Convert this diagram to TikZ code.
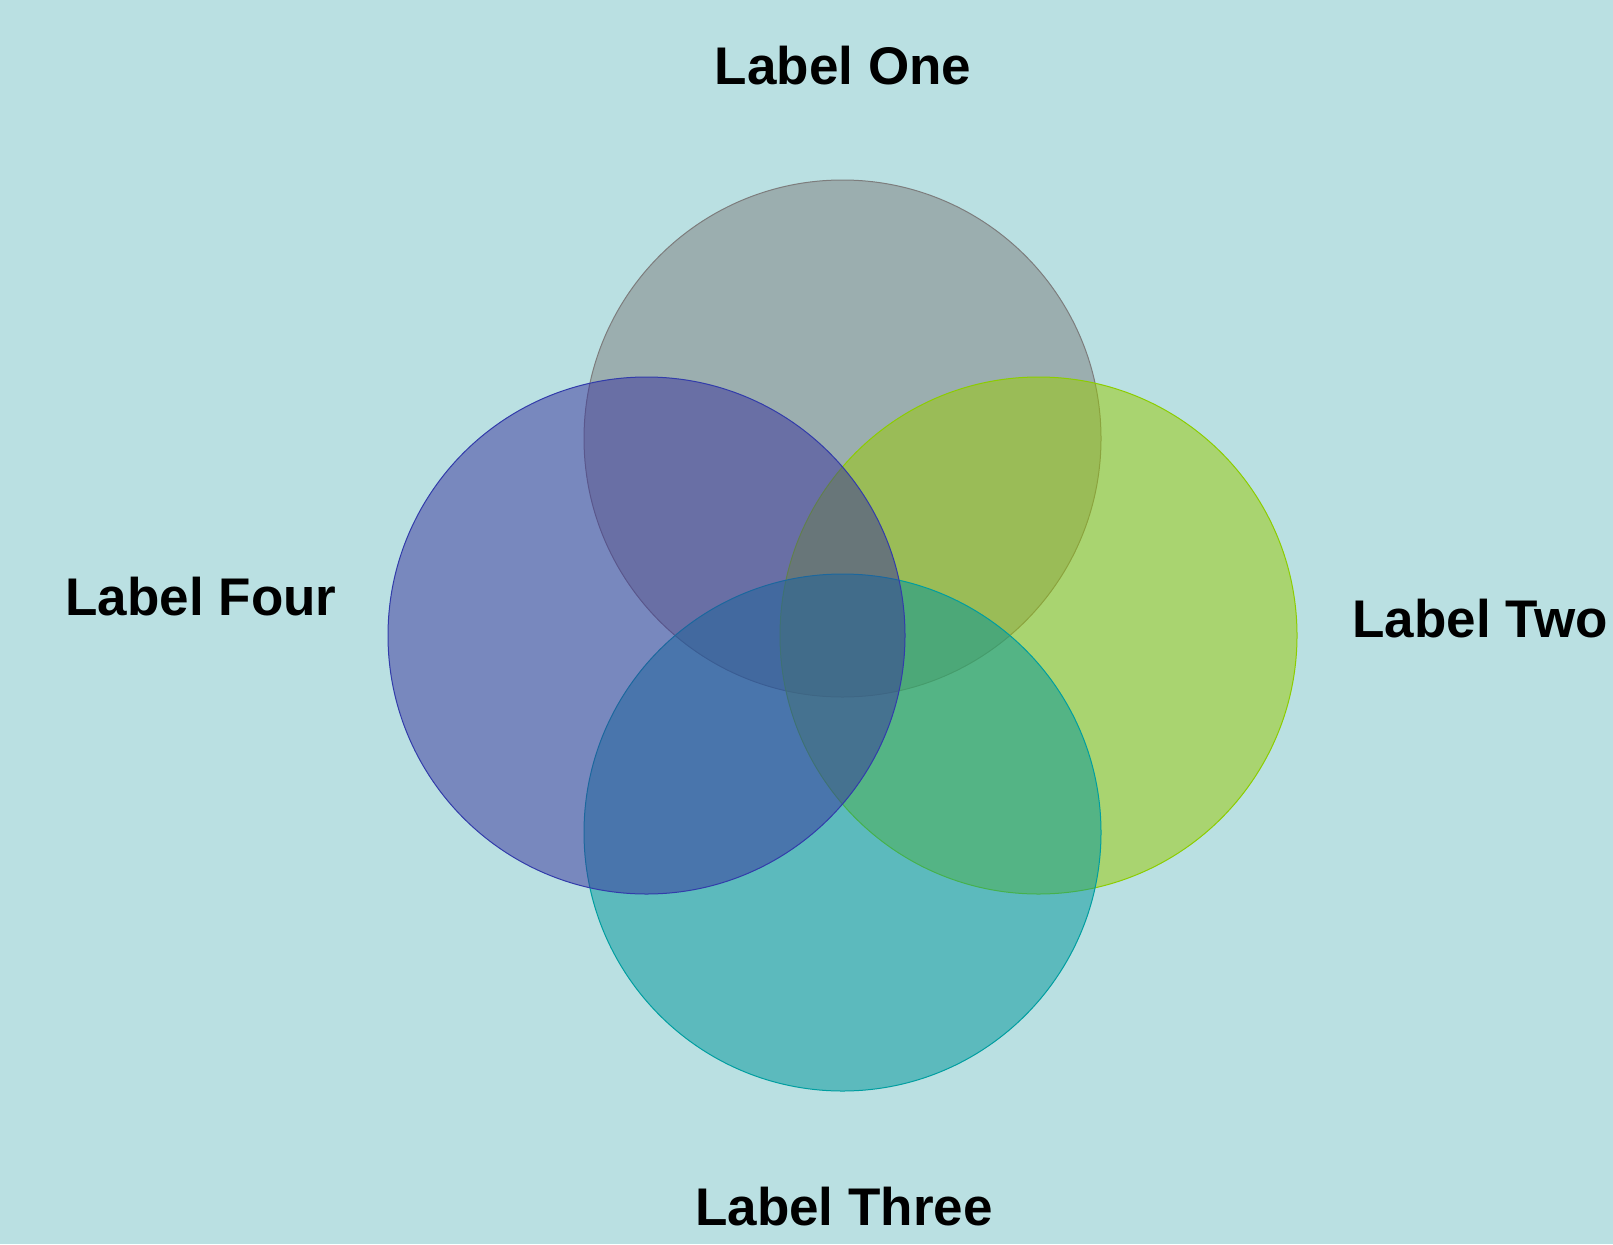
\documentclass[tikz,border=0pt]{standalone}
\usepackage{fontspec}
\setmainfont{Liberation Sans}
\usepackage{tikz}
\usetikzlibrary{backgrounds, positioning}
\usepackage{xcolor}
\definecolor{bgteal}{RGB}{186,224,226}
\definecolor{setone}{RGB}{126,126,126}
\definecolor{settwo}{RGB}{154,202,0}
\definecolor{setthree}{RGB}{0,150,154}
\definecolor{setfour}{RGB}{56,50,156}
\definecolor{edgeone}{RGB}{125,125,125}
\definecolor{edgetwo}{RGB}{140,205,0}
\definecolor{edgethree}{RGB}{0,158,160}
\definecolor{edgefour}{RGB}{50,60,170}

\begin{document}
\begin{tikzpicture}[x=1pt, y=-1pt,
  venn/.style={circle, minimum size=517pt, inner sep=0pt, line width=1pt, fill opacity=0.5},
  setlabel/.style={anchor=base, inner sep=0pt, font=\fontsize{53}{60}\selectfont\bfseries}]
\fill[bgteal] (0,0) rectangle (1613,1244);
\useasboundingbox (0,0) rectangle (1613,1244);
%
\node[venn, fill=setone, draw=edgeone] (one) at (842.5,438.5) {};
\node[venn, fill=settwo, draw=edgetwo] (two) at (1038.5,635.5) {};
\node[venn, fill=setthree, draw=edgethree] (three) at (842.5,832.5) {};
\node[venn, fill=setfour, draw=edgefour] (four) at (646.5,635.5) {};
%
\node[setlabel] (lone) at (843,85) {Label One};
\node[setlabel] (ltwo) at (1480,637) {Label Two};
\node[setlabel] (lthree) at (844,1225) {Label Three};
\node[setlabel] (lfour) at (201,615) {Label Four};
\end{tikzpicture}
\end{document}
